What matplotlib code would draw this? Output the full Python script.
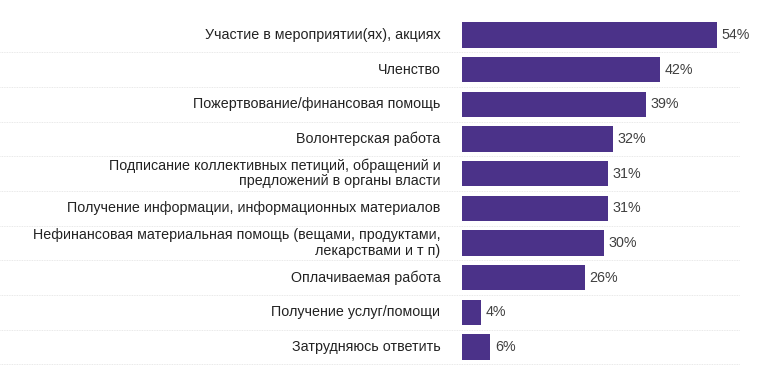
import numpy as np
import matplotlib.pyplot as plt

plt.rcParams['font.family'] = ['Liberation Sans', 'DejaVu Sans']

categories = [
    "Участие в мероприятии(ях), акциях",
    "Членство",
    "Пожертвование/финансовая помощь",
    "Волонтерская работа",
    "Подписание коллективных петиций, обращений и\nпредложений в органы власти",
    "Получение информации, информационных материалов",
    "Нефинансовая материальная помощь (вещами, продуктами,\nлекарствами и т п)",
    "Оплачиваемая работа",
    "Получение услуг/помощи",
    "Затрудняюсь ответить",
]
values = [54, 42, 39, 32, 31, 31, 30, 26, 4, 6]
value_labels = ["54%", "42%", "39%", "32%", "31%", "31%", "30%", "26%", "4%", "6%"]

W, H = 777, 389
fig = plt.figure(figsize=(W / 100, H / 100), dpi=100)
left, right = 462, 745
top, bottom = 17.7, 364.3
ax = fig.add_axes([left / W, 1 - bottom / H, (right - left) / W, (bottom - top) / H])

y = np.arange(len(categories))
ax.barh(y, values, height=0.73, color='#4b3289')
ax.set_xlim(0, 60)
ax.set_ylim(len(categories) - 0.5, -0.5)

for yi, v, lab in zip(y, values, value_labels):
    ax.text(v + 1.0, yi, lab, va='center', ha='left', fontsize=10.3, color='#404040')
    ax.text(-4.6, yi, categories[yi], va='center', ha='right', fontsize=10.3,
            color='#222222', linespacing=1.1)

xmin = -left / (right - left)
xmax = (740 - left) / (right - left)
for b in np.arange(0.5, len(categories), 1.0):
    ax.axhline(b, xmin=xmin, xmax=xmax, color='#e2e2e2', lw=0.6,
               linestyle=(0, (1, 1)), clip_on=False)

ax.set_xticks([])
ax.set_yticks([])
for s in ax.spines.values():
    s.set_visible(False)

fig.savefig('out.png', dpi=100)
